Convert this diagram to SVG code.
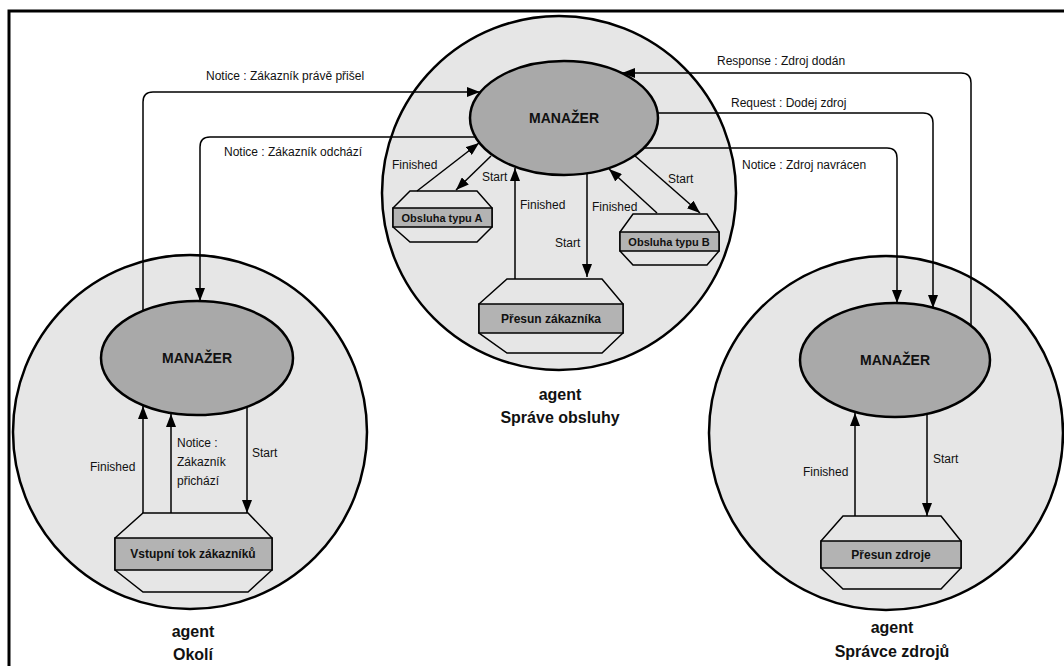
<svg xmlns="http://www.w3.org/2000/svg" width="1064" height="666" viewBox="0 0 1064 666">
<style>
.agent{fill:#e6e6e6;stroke:#000;stroke-width:2.5}
.mgr{fill:#a9a9a9;stroke:#000;stroke-width:2.5}
.oct{fill:#e6e6e6;stroke:#000;stroke-width:1.5}
.band{fill:#b3b3b3;stroke:#000;stroke-width:1.5}
.con{fill:none;stroke:#000;stroke-width:1.5}
text{font-family:"Liberation Sans",Arial,sans-serif;fill:#111}
.lbl{font-size:12px}
.mt{font-size:14px;font-weight:bold;text-anchor:middle}
.bt{font-size:11px;font-weight:bold;text-anchor:middle}
.bt12{font-size:12px;font-weight:bold;text-anchor:middle}
.at{font-size:16px;font-weight:bold;text-anchor:middle}
</style>
<defs>
<marker id="ah" markerUnits="userSpaceOnUse" markerWidth="14" markerHeight="10" refX="13" refY="5" orient="auto">
<path d="M0,0 L13,5 L0,10 Z" fill="#000"/>
</marker>
</defs>
<rect x="0" y="0" width="1064" height="666" fill="#fff"/>
<rect x="9" y="11" width="1100" height="700" fill="none" stroke="#000" stroke-width="3"/>

<g id="agent-okoli">
<circle class="agent" cx="190" cy="432" r="177"/>
<text class="at" x="193" y="637">agent</text>
<text class="at" x="193" y="660">Okolí</text>
</g>
<g id="agent-sprave-obsluhy">
<circle class="agent" cx="559" cy="193" r="177"/>
<text class="at" x="560" y="400">agent</text>
<text class="at" x="560" y="423">Správe obsluhy</text>
</g>
<g id="agent-spravce-zdroju">
<circle class="agent" cx="886" cy="433" r="177"/>
<text class="at" x="892" y="633">agent</text>
<text class="at" x="892" y="657">Správce zdrojů</text>
</g>

<g id="manazer-obsluha">
<ellipse class="mgr" cx="564" cy="118" rx="94" ry="57"/>
<text class="mt" x="564" y="123">MANAŽER</text>
</g>
<g id="manazer-okoli">
<ellipse class="mgr" cx="197" cy="358" rx="96" ry="57"/>
<text class="mt" x="197" y="363">MANAŽER</text>
</g>
<g id="manazer-zdroje">
<ellipse class="mgr" cx="895" cy="360" rx="95" ry="57"/>
<text class="mt" x="895" y="365">MANAŽER</text>
</g>

<g id="vstupni-tok">
<polygon class="oct" points="143,513 248,513 272,538 272,570 248,592 143,592 115,570 115,538"/>
<rect class="band" x="115" y="538" width="157" height="32"/>
<text class="bt12" x="193" y="558">Vstupní tok zákazníků</text>
</g>
<g id="obsluha-a">
<polygon class="oct" points="410,191 477,191 492,208 492,227 477,242 410,242 393,227 393,208"/>
<rect class="band" x="393" y="208" width="99" height="19"/>
<text class="bt" x="442" y="221.5">Obsluha typu A</text>
</g>
<g id="obsluha-b">
<polygon class="oct" points="633,214 707,214 719,232 719,251 707,265 633,265 620,251 620,232"/>
<rect class="band" x="620" y="232" width="99" height="19"/>
<text class="bt" x="669" y="245.5">Obsluha typu B</text>
</g>
<g id="presun-zakaznika">
<polygon class="oct" points="507,279 602,279 623,304 623,333 602,353 507,353 479,333 479,304"/>
<rect class="band" x="479" y="304" width="144" height="29"/>
<text class="bt12" x="551" y="323">Přesun zákazníka</text>
</g>
<g id="presun-zdroje">
<polygon class="oct" points="843,516 941,516 961,541 961,568 941,589 843,589 821,568 821,541"/>
<rect class="band" x="821" y="541" width="140" height="27"/>
<text class="bt12" x="891" y="559">Přesun zdroje</text>
</g>

<g id="connectors">
<path class="con" d="M143,311 V102 Q143,92 153,92 H480" marker-end="url(#ah)"/>
<path class="con" d="M475,137 H210 Q200,137 200,147 V301" marker-end="url(#ah)"/>
<path class="con" d="M971,326 V83 Q971,73 961,73 H622" marker-end="url(#ah)"/>
<path class="con" d="M657,113 H923 Q933,113 933,123 V308" marker-end="url(#ah)"/>
<path class="con" d="M644,148 H887 Q897,148 897,158 V303" marker-end="url(#ah)"/>

<path class="con" d="M143,513 V406" marker-end="url(#ah)"/>
<path class="con" d="M171,513 V414" marker-end="url(#ah)"/>
<path class="con" d="M247,407 V513" marker-end="url(#ah)"/>

<path class="con" d="M417,191 L479,143" marker-end="url(#ah)"/>
<path class="con" d="M491,156 L456,190" marker-end="url(#ah)"/>
<path class="con" d="M515,279 V168" marker-end="url(#ah)"/>
<path class="con" d="M587,174 V277" marker-end="url(#ah)"/>
<path class="con" d="M657,213 L609,169" marker-end="url(#ah)"/>
<path class="con" d="M634,155 L700,213" marker-end="url(#ah)"/>

<path class="con" d="M855,516 V413" marker-end="url(#ah)"/>
<path class="con" d="M927,414 V516" marker-end="url(#ah)"/>
</g>

<g id="labels">
<text class="lbl" x="206" y="80">Notice : Zákazník právě přišel</text>
<text class="lbl" x="224" y="156">Notice : Zákazník odchází</text>
<text class="lbl" x="717" y="65">Response : Zdroj dodán</text>
<text class="lbl" x="731" y="107">Request : Dodej zdroj</text>
<text class="lbl" x="742" y="169">Notice : Zdroj navrácen</text>
<text class="lbl" x="392" y="169">Finished</text>
<text class="lbl" x="482" y="181">Start</text>
<text class="lbl" x="520" y="209">Finished</text>
<text class="lbl" x="555" y="247">Start</text>
<text class="lbl" x="592" y="211">Finished</text>
<text class="lbl" x="668" y="183">Start</text>
<text class="lbl" x="90" y="471">Finished</text>
<text class="lbl" x="177" y="447">Notice :</text>
<text class="lbl" x="177" y="466">Zákazník</text>
<text class="lbl" x="177" y="485">přichází</text>
<text class="lbl" x="252" y="457">Start</text>
<text class="lbl" x="803" y="476">Finished</text>
<text class="lbl" x="933" y="463">Start</text>
</g>
</svg>
